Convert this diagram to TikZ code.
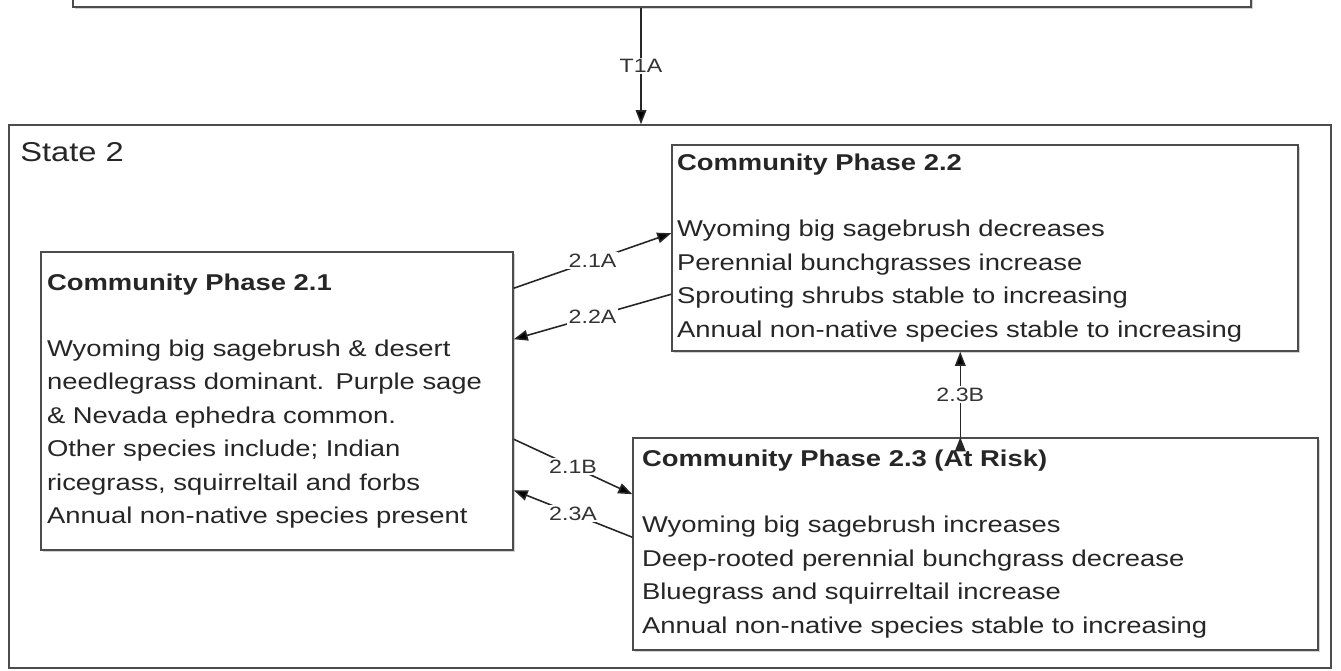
\documentclass[tikz,border=0pt]{standalone}
\usepackage{fontspec}
\setmainfont{Liberation Sans}[FakeStretch=1.2]
\usetikzlibrary{arrows.meta,calc,shadows}

\tikzset{
  phase/.style={draw=black!70, line width=0.9pt, fill=white,
    drop shadow={shadow xshift=1.3pt, shadow yshift=-1.3pt, opacity=0.35},
    align=left, inner ysep=0pt, text=black!85,
    font=\fontsize{13}{19}\selectfont},
  trans/.style={draw=black!85, line width=0.9pt, -{Triangle[length=8pt,width=6pt]}},
  lbl/.style={fill=white, inner sep=1pt, text=black!80, font=\fontsize{11}{13}\selectfont}
}

\begin{document}
\begin{tikzpicture}[x=0.02cm, y=-0.02cm]
\useasboundingbox (0,0) rectangle (1341,671);
% states
\node[phase, minimum width=23.56cm, minimum height=1.08cm] (S1) at (662,-20) {};
\node[draw=black!70, line width=0.9pt, minimum width=26.44cm, minimum height=10.86cm] (S2) at (670,396.5) {};
\node[anchor=base west, inner sep=0pt, text=black!85, font=\fontsize{15.5}{18}\selectfont] (S2lab) at (20,162) {State 2};
% community phases
\node[phase, text width=9.2cm, inner xsep=0.12cm, minimum height=5.96cm] (P21) at (277,401)
  {\textbf{Community Phase 2.1}\\[18.6pt]
   Wyoming big sagebrush \& desert\\
   needlegrass dominant. Purple sage\\
   \& Nevada ephedra common.\\
   Other species include; Indian\\
   ricegrass, squirreltail and forbs\\
   Annual non-native species present};
\node[phase, text width=12.32cm, inner xsep=0.1cm, minimum height=4.12cm] (P22) at (985,248)
  {\textbf{Community Phase 2.2}\\[18.6pt]
   Wyoming big sagebrush decreases\\
   Perennial bunchgrasses increase\\
   Sprouting shrubs stable to increasing\\
   Annual non-native species stable to increasing};
\node[phase, text width=13.34cm, inner xsep=0.18cm, minimum height=4.24cm] (P23) at (975.5,544)
  {\textbf{Community Phase 2.3 (At Risk)}\\[18.6pt]
   Wyoming big sagebrush increases\\
   Deep-rooted perennial bunchgrass decrease\\
   Bluegrass and squirreltail increase\\
   Annual non-native species stable to increasing};
% transitions
\coordinate (t1) at (641,0);
\coordinate (b23) at ($(P23.north west)+(328,0)$);
\path[trans]
  (S1.south -| t1) edge node[lbl] {T1A} (S2.north -| t1)
  ($(P21.north east)+(0,37)$) edge node[lbl] {2.1A} ($(P22.north west)+(0,89)$)
  ($(P22.north west)+(0,150)$) edge node[lbl] {2.2A} ($(P21.north east)+(0,88)$)
  ($(P21.north east)+(0,188)$) edge node[lbl] {2.1B} ($(P23.north west)+(0,57)$)
  ($(P23.north west)+(0,100)$) edge node[lbl] {2.3A} ($(P21.north east)+(0,239)$)
  (b23) edge node[lbl] {2.3B} (P22.south -| b23);
\end{tikzpicture}
\end{document}
